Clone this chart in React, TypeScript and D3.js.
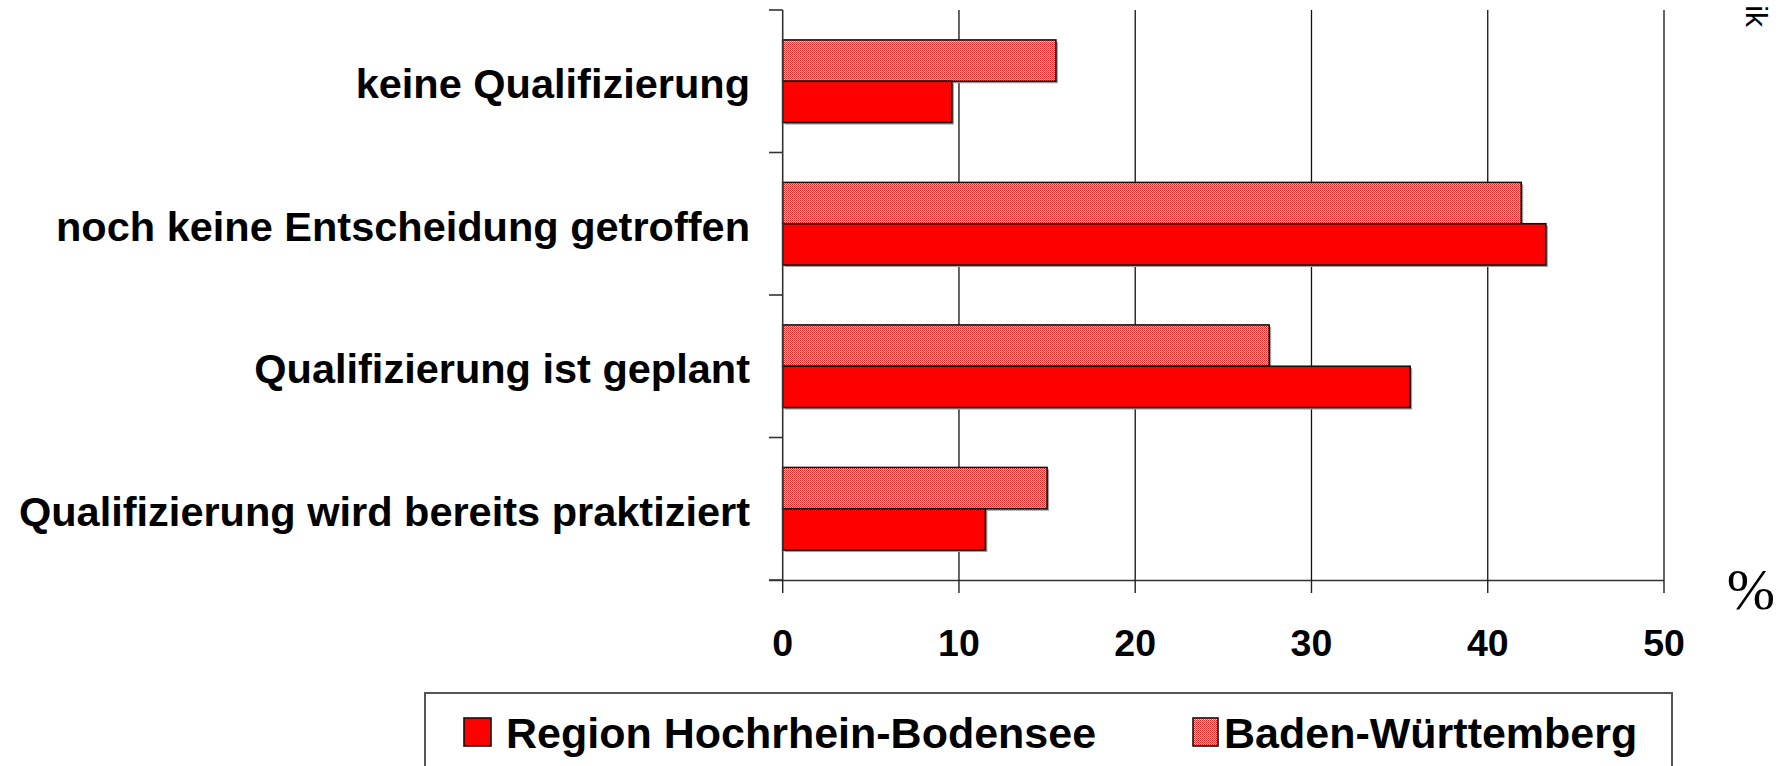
import React from "react";
import * as d3 from "d3";

const categories = [
  "keine Qualifizierung",
  "noch keine Entscheidung getroffen",
  "Qualifizierung ist geplant",
  "Qualifizierung wird bereits praktiziert",
];
const regionValues = [9.6, 43.3, 35.6, 11.5];
const bwValues = [15.5, 41.9, 27.6, 15.0];
const seriesKeys = ["bw", "region"];
const xTicks = [0, 10, 20, 30, 40, 50];
const legendLabels = ["Region Hochrhein-Bodensee", "Baden-Württemberg"];

const W = 1791;
const H = 766;
const FONT = "'Liberation Sans', Arial, Helvetica, sans-serif";

export default function App() {
  const x = d3.scaleLinear().domain([0, 50]).range([782.7, 1664]);
  const y = d3.scaleBand<string>().domain(categories).range([10, 580]).padding(0);
  const sub = d3
    .scaleBand<string>()
    .domain(seriesKeys)
    .range([0, y.bandwidth()])
    .paddingInner(0)
    .paddingOuter(0.725);

  const boundaries = categories.map((c) => y(c) as number).concat([580]);

  return (
    <svg
      width={W}
      height={H}
      style={{ position: "absolute", left: 0, top: 0, background: "#fff" }}
      fontFamily={FONT}
    >
      <defs>
        <pattern id="bwpat" width="2" height="2" patternUnits="userSpaceOnUse">
          <rect x="0" y="0" width="2" height="2" fill="#ffc8c8" />
          <rect x="0" y="0" width="1" height="1" fill="#ff1a1a" />
          <rect x="1" y="1" width="1" height="1" fill="#ff4a4a" />
        </pattern>
      </defs>
      <rect width={W} height={H} fill="#fff" />

      {/* grid lines */}
      {xTicks.slice(1).map((t) => (
        <line key={"g" + t} x1={x(t)} x2={x(t)} y1={10} y2={580} stroke="#111" strokeWidth={1.3} />
      ))}

      {/* bars */}
      {categories.map((c, i) => {
        const y0 = y(c) as number;
        const vals: Record<string, number> = { bw: bwValues[i], region: regionValues[i] };
        return (
          <g key={c}>
            {seriesKeys.map((k) => {
              const by = y0 + (sub(k) as number);
              const bw = x(vals[k]) - x(0);
              return (
                <g key={k}>
                  <rect x={x(0) + 2} y={by + 2} width={bw} height={sub.bandwidth()} fill="#a0a0a0" />
                  <rect
                    x={x(0)}
                    y={by}
                    width={bw}
                    height={sub.bandwidth()}
                    fill={k === "region" ? "#ff0000" : "url(#bwpat)"}
                    stroke="#111"
                    strokeWidth={1.6}
                  />
                </g>
              );
            })}
          </g>
        );
      })}

      {/* y axis */}
      <line x1={x(0)} x2={x(0)} y1={10} y2={580.5} stroke="#333" strokeWidth={1.6} />
      {boundaries.map((b, i) => (
        <line key={"yt" + i} x1={769} x2={x(0)} y1={b} y2={b} stroke="#333" strokeWidth={1.6} />
      ))}

      {/* x axis */}
      <line x1={769} x2={x(50)} y1={580.5} y2={580.5} stroke="#333" strokeWidth={1.6} />
      {xTicks.map((t) => (
        <g key={"xt" + t}>
          <line x1={x(t)} x2={x(t)} y1={580} y2={593} stroke="#222" strokeWidth={1.4} />
          <text
            x={x(t)}
            y={656}
            textAnchor="middle"
            fontSize={37.5}
            fontWeight="bold"
            fill="#000"
          >
            {t}
          </text>
        </g>
      ))}

      {/* category labels */}
      {categories.map((c) => (
        <text
          key={"l" + c}
          x={750}
          y={(y(c) as number) + y.bandwidth() / 2 + 17}
          textAnchor="end"
          fontSize={41.5}
          fontWeight="bold"
          fill="#000"
        >
          {c}
        </text>
      ))}

      {/* percent sign */}
      <text x={1751} y={609} textAnchor="middle" fontSize={58} fontFamily="'Liberation Serif', 'Times New Roman', serif" fill="#000">
        %
      </text>

      {/* rotated partial text top right */}
      <text
        transform="translate(1746,27) rotate(90)"
        textAnchor="end"
        fontSize={30}
        fill="#000"
      >
        ik
      </text>

      {/* legend */}
      <rect x={425} y={693} width={1247} height={90} fill="#fff" stroke="#555" strokeWidth={2} />
      <rect x={464} y={718} width={27} height={28} fill="#ff0000" stroke="#111" strokeWidth={1.6} />
      <text x={506} y={748} fontSize={43} fontWeight="bold" fill="#000">
        {legendLabels[0]}
      </text>
      <rect x={1193} y={718} width={25} height={28} fill="url(#bwpat)" stroke="#111" strokeWidth={1.6} />
      <text x={1224} y={748} fontSize={43} fontWeight="bold" fill="#000">
        {legendLabels[1]}
      </text>
    </svg>
  );
}
